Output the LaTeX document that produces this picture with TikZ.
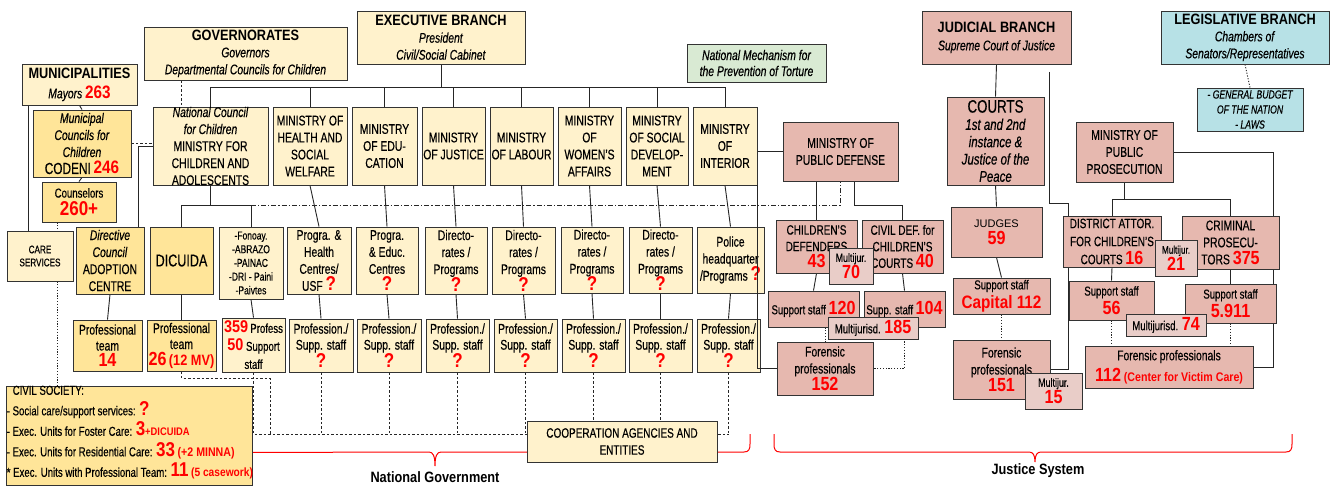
\documentclass[tikz,border=0pt]{standalone}
\usepackage{fontspec}
\setmainfont{Liberation Sans}[FakeStretch=0.74,FakeBold=0.4]
\newfontfamily\widefont{Liberation Sans}[FakeStretch=0.85]
\newfontfamily\plainsans{Liberation Sans}
\usetikzlibrary{calc}

\definecolor{ylight}{HTML}{FFF2CC}
\definecolor{ydark}{HTML}{FFE599}
\definecolor{pinkc}{HTML}{E6B8AF}
\definecolor{pinkl}{HTML}{E9CDC8}
\definecolor{greenc}{HTML}{D9EAD3}
\definecolor{bluec}{HTML}{B7E1E6}
\definecolor{numred}{HTML}{FF0000}

\pgfdeclarelayer{back}
\pgfdeclarelayer{wires}
\pgfsetlayers{back,wires,main}

% red bold figures, keeping the line spacing of the surrounding text
\newcommand\rnz[2]{{\color{numred}\widefont\bfseries\edef\keptbs{\the\baselineskip}\fontsize{#1}{\keptbs}\selectfont #2}}
\newcommand\rn[1]{\rnz{19}{#1}}
\newcommand\qm{\rnz{20}{?}}
\newcommand\hdr[1]{{\widefont\bfseries\edef\keptbs{\the\baselineskip}\fontsize{15}{\keptbs}\selectfont #1}}

% box from corner (x1,y1) to (x2,y2), text laid over its centre
\newcommand\mkbox[8][]{%
  \pgfmathsetmacro\mkW{#5-#3}%
  \pgfmathsetmacro\mkH{#6-#4}%
  \pgfmathsetmacro\mkX{(#3+#5)/2}%
  \pgfmathsetmacro\mkY{(#4+#6)/2}%
  \node[boxshape,#7,minimum width=\mkW pt,minimum height=\mkH pt] (#2) at (\mkX,\mkY) {};%
  \node[txt,#1] (#2-t) at (#2.center) {#8};%
}

\begin{document}
\begin{tikzpicture}[x=1pt,y=-1pt,
  boxshape/.style={rectangle,draw=black!80,line width=0.9pt,inner sep=0pt},
  txt/.style={inner sep=0pt,align=center,font=\fontsize{14}{17}\selectfont},
  yl/.style={fill=ylight},
  yd/.style={fill=ydark},
  pk/.style={fill=pinkc},
  pl/.style={fill=pinkl},
  gr/.style={fill=greenc},
  bl/.style={fill=bluec},
  conn/.style={draw=black!85,line width=0.9pt},
  dconn/.style={conn,dash pattern=on 2.5pt off 2pt},
  tconn/.style={conn,dash pattern=on 1.2pt off 1.6pt},
  ddconn/.style={conn,dash pattern=on 5pt off 2pt on 1.2pt off 2pt},
  brace/.style={draw=red,line width=1pt},
  lbl/.style={inner sep=0pt,font=\widefont\bfseries\fontsize{15}{17}\selectfont}
]
\useasboundingbox (0,0) rectangle (1333,487);
\begin{pgfonlayer}{back}
  \fill[white] (0,0) rectangle (1333,487);
\end{pgfonlayer}

% ---------------- national government ----------------
\mkbox{gov}{144}{27}{347}{80}{yl}{\hdr{GOVERNORATES}\\ \textit{Governors}\\ \textit{Departmental Councils for Children}}
\mkbox{exec}{357}{11}{525}{64}{yl}{\hdr{EXECUTIVE BRANCH}\\ \textit{President}\\ \textit{Civil/Social Cabinet}}
\mkbox[font=\fontsize{14}{20}\selectfont]{mun}{22}{64}{137}{105}{yl}{\hdr{MUNICIPALITIES}\\ \textit{Mayors} \rnz{18}{263}}
\mkbox{mcc}{33}{110}{131}{177}{yd}{\textit{Municipal}\\ \textit{Councils for}\\ \textit{Children}\\ {\fontsize{16}{17}\selectfont CODENI} \rnz{18}{246}}
\mkbox[font=\fontsize{13}{18}\selectfont]{couns}{42}{182}{116}{222}{yd}{Counselors\\ \rnz{20}{260+}}
\mkbox{ncc}{153}{107}{268}{185}{yl}{\textit{National Council}\\ \textit{for Children}\\ MINISTRY FOR\\ CHILDREN AND\\ ADOLESCENTS}
\mkbox[font=\itshape\fontsize{14}{16}\selectfont]{nmpt}{687}{44}{826}{82}{gr}{National Mechanism for\\ the Prevention of Torture}

\mkbox{mhealth}{273}{107}{347}{185}{yl}{MINISTRY OF\\ HEALTH AND\\ SOCIAL\\ WELFARE}
\mkbox{medu}{352}{107}{417}{185}{yl}{MINISTRY\\ OF EDU-\\ CATION}
\mkbox{mjus}{422}{107}{485}{185}{yl}{MINISTRY\\ OF JUSTICE}
\mkbox{mlab}{490}{107}{553}{185}{yl}{MINISTRY\\ OF LABOUR}
\mkbox{mwom}{558}{107}{621}{185}{yl}{MINISTRY\\ OF\\ WOMEN’S\\ AFFAIRS}
\mkbox{msoc}{626}{107}{688}{185}{yl}{MINISTRY\\ OF SOCIAL\\ DEVELOP-\\ MENT}
\mkbox{mint}{693}{107}{757}{185}{yl}{MINISTRY\\ OF\\ INTERIOR}

\mkbox[font=\fontsize{11}{13}\selectfont]{care}{7}{231}{73}{281}{yl}{CARE\\ SERVICES}
\mkbox{adopt}{76}{227}{144}{294}{yd}{\textit{Directive}\\ \textit{Council}\\ ADOPTION\\ CENTRE}
\mkbox[font=\fontsize{17}{20}\selectfont]{dicuida}{150}{227}{213}{294}{yd}{DICUIDA}
\mkbox[font=\fontsize{11.5}{13.7}\selectfont]{fonoay}{219}{227}{283}{299}{yl}{-Fonoay.\\ -ABRAZO\\ -PAINAC\\ -DRI - Paini\\ -Paivtes}
\mkbox{p2health}{287}{227}{351}{294}{yl}{Progra. \&\\ Health\\ Centres/\\ USF \qm}
\mkbox{p2edu}{356}{227}{418}{294}{yl}{Progra.\\ \& Educ.\\ Centres\\ \qm}
\mkbox{p2jus}{425}{227}{487}{294}{yl}{Directo-\\ rates /\\ Programs\\ \qm}
\mkbox{p2lab}{492}{227}{555}{294}{yl}{Directo-\\ rates /\\ Programs\\ \qm}
\mkbox{p2wom}{561}{227}{623}{293}{yl}{Directo-\\ rates /\\ Programs\\ \qm}
\mkbox{p2soc}{629}{227}{692}{293}{yl}{Directo-\\ rates /\\ Programs\\ \qm}
\mkbox{p2int}{697}{227}{764}{293}{yl}{Police\\ headquarter\\ /Programs \qm}

\mkbox[font=\fontsize{14}{16}\selectfont]{pt14}{73}{320}{142}{371}{yd}{Professional\\ team\\ \rn{14}}
\mkbox[font=\fontsize{14}{16}\selectfont]{pt26}{147}{320}{216}{371}{yd}{Professional\\ team\\ \rn{26}\,\rnz{15}{(12 MV)}}
\mkbox[font=\fontsize{13}{18}\selectfont]{s359}{222}{318}{285}{372}{yl}{\rnz{17}{359}\,Profess\\ \rnz{17}{50} Support\\ staff}
\mkbox[font=\fontsize{14}{16}\selectfont]{p3health}{289}{319}{353}{372}{yl}{Profession./\\ Supp. staff\\ \qm}
\mkbox[font=\fontsize{14}{16}\selectfont]{p3edu}{357}{319}{421}{372}{yl}{Profession./\\ Supp. staff\\ \qm}
\mkbox[font=\fontsize{14}{16}\selectfont]{p3jus}{426}{319}{489}{372}{yl}{Profession./\\ Supp. staff\\ \qm}
\mkbox[font=\fontsize{14}{16}\selectfont]{p3lab}{494}{319}{557}{372}{yl}{Profession./\\ Supp. staff\\ \qm}
\mkbox[font=\fontsize{14}{16}\selectfont]{p3wom}{562}{319}{625}{372}{yl}{Profession./\\ Supp. staff\\ \qm}
\mkbox[font=\fontsize{14}{16}\selectfont]{p3soc}{629}{319}{692}{372}{yl}{Profession./\\ Supp. staff\\ \qm}
\mkbox[font=\fontsize{14}{16}\selectfont]{p3int}{697}{319}{760}{372}{yl}{Profession./\\ Supp. staff\\ \qm}

\mkbox{civil}{6}{386}{252}{485}{yd}{}
\node[anchor=north west,inner sep=0pt,align=left,font=\fontsize{13}{20.5}\selectfont] (civlist) at ([xshift=1pt]civil.north west)
  {\hspace*{6pt}CIVIL SOCIETY:\\
   - Social care/support services: \qm\\
   - Exec. Units for Foster Care: \rnz{20}{3}\rnz{11}{+DICUIDA}\\
   - Exec. Units for Residential Care: \rnz{20}{33} \rnz{12.5}{(+2 MINNA)}\\
   * Exec. Units with Professional Team: \rnz{20}{11} \rnz{12}{(5 casework)}};

\mkbox[font=\fontsize{13.5}{17}\selectfont]{coop}{527}{421}{717}{462}{yl}{COOPERATION AGENCIES AND\\ ENTITIES}

% ---------------- justice system ----------------
\mkbox{mpd}{783}{122}{898}{181}{pk}{MINISTRY OF\\ PUBLIC DEFENSE}
\mkbox[font=\fontsize{13.5}{16.5}\selectfont]{cdef}{776}{220}{857}{273}{pk}{CHILDREN’S\\ DEFENDERS\\ \rn{43}}
\mkbox[font=\fontsize{13.5}{16.5}\selectfont]{civdef}{862}{220}{943}{273}{pk}{CIVIL DEF. for\\ CHILDREN’S\\ COURTS \rn{40}}
\mkbox[font=\fontsize{12}{15}\selectfont]{mj70}{829}{248}{873}{284}{pl}{Multijur.\\ \rn{70}}
\mkbox[font=\fontsize{13}{17}\selectfont]{ss120}{768}{291}{859}{327}{pk}{Support staff \rn{120}}
\mkbox[font=\fontsize{13}{17}\selectfont]{ss104}{864}{291}{945}{327}{pk}{Supp. staff \rn{104}}
\mkbox[font=\fontsize{13}{17}\selectfont]{mj185}{828}{317}{918}{339}{pl}{Multijurisd. \rn{185}}
\mkbox{for152}{777}{342}{873}{395}{pk}{Forensic\\ professionals\\ \rn{152}}

\mkbox[font=\fontsize{14}{18}\selectfont]{jud}{922}{11}{1071}{64}{pk}{\hdr{JUDICIAL BRANCH}\\ \textit{Supreme Court of Justice}}
\mkbox[font=\fontsize{15.5}{17.3}\selectfont]{courts}{947}{97}{1044}{185}{pk}{{\fontsize{18}{17.3}\selectfont COURTS}\\ \textit{1st and 2nd}\\ \textit{instance \&}\\ \textit{Justice of the}\\ \textit{Peace}}
\mkbox[font=\fontsize{11}{17}\selectfont]{judges}{951}{207}{1042}{257}{pk}{{\plainsans JUDGES}\\ \rn{59}}
\mkbox[font=\fontsize{13}{19}\selectfont]{sscap}{953}{278}{1050}{314}{pk}{Support staff\\ \rnz{18}{Capital 112}}
\mkbox{for151}{953}{340}{1050}{399}{pk}{Forensic\\ professionals\\ \rn{151}}
\mkbox[font=\fontsize{12}{17}\selectfont]{mj15}{1025}{373}{1082}{409}{pl}{Multijur.\\ \rn{15}}

\mkbox{mpp}{1076}{122}{1173}{182}{pk}{MINISTRY OF\\ PUBLIC\\ PROSECUTION}
\mkbox[font=\fontsize{13.5}{18}\selectfont]{dist}{1063}{216}{1161}{267}{pk}{DISTRICT ATTOR.\\ FOR CHILDREN’S\\ COURTS \rn{16}}
\mkbox{crim}{1182}{216}{1279}{269}{pk}{CRIMINAL\\ PROSECU-\\ TORS \rn{375}}
\mkbox[font=\fontsize{11}{15}\selectfont]{mj21}{1155}{240}{1197}{276}{pl}{Multijur.\\ \rn{21}}
\mkbox[font=\fontsize{13}{19}\selectfont]{ss56}{1069}{281}{1154}{320}{pk}{Support staff\\ \rn{56}}
\mkbox[font=\fontsize{13}{19}\selectfont]{ss5911}{1185}{284}{1276}{323}{pk}{Support staff\\ \rn{5.911}}
\mkbox[font=\fontsize{13}{17}\selectfont]{mj74}{1126}{314}{1206}{336}{pl}{Multijurisd. \rn{74}}
\mkbox[font=\fontsize{14}{21}\selectfont]{for112}{1085}{346}{1253}{388}{pk}{Forensic professionals\\ \rn{112} \rnz{12.5}{(Center for Victim Care)}}

\mkbox{leg}{1161}{11}{1329}{64}{bl}{\hdr{LEGISLATIVE BRANCH}\\ \textit{Chambers of}\\ \textit{Senators/Representatives}}
\mkbox[font=\itshape\fontsize{11.7}{15}\selectfont]{budget}{1197}{88}{1303}{131}{bl}{- GENERAL BUDGET\\ OF THE NATION\\ - LAWS}

% group labels
\node[lbl] (ngov) at (435,477) {National Government};
\node[lbl] (jsys) at (1038,471) {Justice System};

% line from the Ministry of Interior down to forensic professionals, over the boxes
\draw[conn] (mint.south east) |- (for152.west);

% ---------------- connectors ----------------
\begin{pgfonlayer}{wires}
  % brackets
  \draw[brace] ([yshift=33pt]civil.south east) -- (429,452)
    .. controls (433,452) and (435,456) .. (435,466)
    .. controls (435,456) and (437,452) .. (441,452) -- (744,452)
    .. controls (749,452) and (750,449) .. (750,444) -- (750,434);
  \draw[brace] (774,434) -- (774,444)
    .. controls (774,449) and (775,452) .. (780,452) -- (1029,452)
    .. controls (1033,452) and (1035,455) .. (1035,462)
    .. controls (1035,455) and (1037,452) .. (1041,452) -- (1286,452)
    .. controls (1291,452) and (1292,449) .. (1292,444) -- (1292,434);

  % executive branch bus
  \coordinate (busA) at (441,87);
  \draw[conn] (exec.south) -- (exec.south |- busA);
  \draw[conn] (ncc.north) |- (mint.north |- busA) -- (mint.north);
  \foreach \m in {mhealth,medu,mjus,mlab,mwom,msoc}
    \draw[conn] (\m.north) -- (\m.north |- busA);

  % governorates and municipalities
  \coordinate (govdrop) at ([xshift=38pt]gov.south west);
  \draw[dconn] (govdrop) -- (govdrop |- ncc.north);
  \draw[conn] (mun.south) -- (mcc.north);
  \coordinate (munl) at ([xshift=7pt]mun.south west);
  \draw[conn] (munl) -- (munl |- care.north);
  \draw[conn] (mcc.south) -- (couns.north);
  \coordinate (cdrop) at ([xshift=16pt]couns.south west);
  \draw[tconn] (cdrop) -- (cdrop |- care.north);
  \draw[tconn] (cdrop |- care.south) -- (cdrop |- civil.north);
  \draw[dconn] (mcc.east) -- (mcc.east -| ncc.west);
  \coordinate (adtop) at ([xshift=-6pt]adopt.north east);
  \draw[conn] (ncc.west) -| (adtop);

  % national council branches
  \coordinate (busB) at (0,205);
  \draw[conn] (ncc.south) -- (ncc.south |- busB);
  \draw[conn] (dicuida.north) |- (fonoay.north |- busB) -- (fonoay.north);
  \draw[ddconn] (fonoay.north |- busB) -| (mpd.south);
  \draw[conn] (adopt.south) -- (pt14.north);
  \draw[conn] (dicuida.south) -- (pt26.north);
  \draw[conn] (fonoay.south) -- (s359.north);

  % ministries, programmes and staff
  \foreach \a/\b/\c in {mhealth/p2health/p3health,medu/p2edu/p3edu,mjus/p2jus/p3jus,
      mlab/p2lab/p3lab,mwom/p2wom/p3wom,msoc/p2soc/p3soc,mint/p2int/p3int}{
    \draw[conn] (\a.south) -- (\b.north);
    \draw[conn] (\b.south) -- (\c.north);
  }

  % dashed links to the cooperation agencies
  \coordinate (busC) at (0,434);
  \foreach \c in {p3health,p3edu,p3jus,p3lab,p3wom,p3soc,p3int}
    \draw[dconn] (\c.south) -- (\c.south |- busC);
  \draw[dconn] (s359.south) -- (s359.south |- busC) -- (p3int.south |- busC);
  \coordinate (ptturn) at ([xshift=-15pt,yshift=-6pt]s359.south east);
  \draw[dconn] (pt26.south) |- (ptturn) -- (ptturn |- busC);

  % public defense
  \draw[conn] (mpd.west -| mint.east) -- (mpd.west);
  \draw[conn] (cdef.north |- mpd.south) -- (cdef.north);
  \coordinate (mpdr) at ([xshift=14pt]mpd.south);
  \draw[conn] (mpdr) |- ([yshift=14pt]civdef.north) -- (civdef.north);
  \draw[conn] (cdef.south) -- (ss120.north);
  \draw[conn] (civdef.south) -- (ss104.north);
  \draw[tconn] (for152.north |- ss120.south) -- (for152.north);
  \draw[tconn] (ss104.south) |- (for152.east);

  % courts
  \draw[conn] (jud.south) -- (courts.north);
  \draw[conn] (courts.south) -- (judges.north);
  \draw[conn] (judges.south) -- (sscap.north);
  \draw[tconn] (sscap.south) -- (for151.north);
  \coordinate (jtail) at (1049,72);
  \coordinate (dtop) at ([xshift=6pt]dist.north west);
  \draw[conn] (jtail) |- ([yshift=12pt]dtop) -- (dtop);
  \coordinate (dbot) at ([xshift=6pt]dist.south west);
  \draw[conn] (for151.east) -| (dbot);

  % public prosecution
  \coordinate (busD) at (0,199);
  \draw[conn] (mpp.south) -- (mpp.south |- busD);
  \draw[conn] (dist.north) |- (crim.north |- busD) -- (crim.north);
  \draw[conn] (mpp.east) -| ([xshift=20pt]for112.east) -- (for112.east);
  \draw[conn] (dist.south) -- (ss56.north);
  \draw[conn] (crim.south) -- (ss5911.north);
  \draw[tconn] (ss56.south) -- (ss56.south |- for112.north);
  \draw[tconn] (ss5911.south) -- (ss5911.south |- for112.north);

  % legislative
  \draw[tconn] (leg.south) -- (budget.north);
\end{pgfonlayer}
\end{tikzpicture}
\end{document}
